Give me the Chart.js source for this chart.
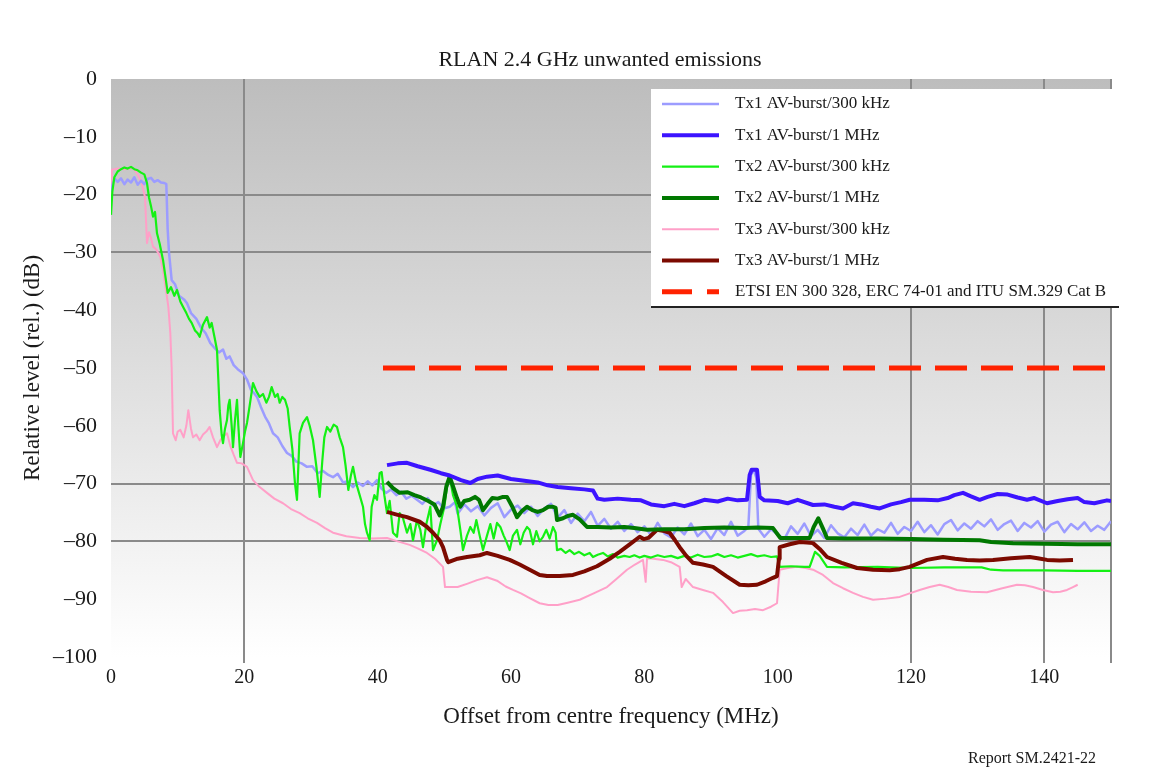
<!DOCTYPE html>
<html><head><meta charset="utf-8">
<script src="https://cdn.jsdelivr.net/npm/chart.js@4.4.1/dist/chart.umd.min.js"></script>
<style>html,body{margin:0;padding:0;background:#fff}#wrap{width:1165px;height:769px;position:relative}</style>
</head><body><div id="wrap"><canvas id="c" width="1165" height="769"></canvas></div>
<script>
const chartTitle = 'RLAN 2.4 GHz unwanted emissions';
const xTitle = 'Offset from centre frequency (MHz)';
const yTitle = 'Relative level (rel.) (dB)';
const footnote = 'Report SM.2421-22';
const xTickValues = [0, 20, 40, 60, 80, 100, 120, 140, 150];
const yTickValues = [-100, -90, -80, -70, -60, -50, -40, -30, -20, -10, 0];
const xGridShown = [20, 120, 140, 150];
const yGridShown = [-20, -30, -70, -80];
const seriesNames = ['Tx1 AV-burst/300 kHz','Tx1 AV-burst/1 MHz','Tx2 AV-burst/300 kHz','Tx2 AV-burst/1 MHz','Tx3 AV-burst/300 kHz','Tx3 AV-burst/1 MHz','ETSI EN 300 328, ERC 74-01 and ITU SM.329 Cat B'];

// Tx1 AV-burst/300 kHz
const tx1k300_f = [0,0.3,0.6,1.0,1.5,2.0,2.5,3.0,3.5,4.0,4.5,5.0,5.5,6.0,6.5,7.0,7.5,8.0,8.3,8.5,8.7,9.1,9.6,10.2,11.0,11.4,12.0,12.8,13.5,14.2,14.9,15.5,16.2,16.8,17.3,17.8,18.4,19.0,19.8,20.4,21.0,21.5,21.9,22.5,23.1,23.7,24.3,25.0,25.7,26.4,27.1,27.8,28.6,29.4,30.2,31.0,31.8,32.6,33.3,34.0,34.8,35.5,36.3,37.0,37.8,38.5,39.2,39.9,40.6,41.3,42.0,42.8,43.5,44.3,45.1,45.9,46.7,47.5,48.3,49.1,49.9,50.8,51.6,52,53,54,55,56,57,58,59,60,61,62,63,64,65,66,67,68,69,70,71,72,73,74,75,76,77,78,79,80,81,82,83,84,85,86,87,88,89,90,91,92,93,94,95,95.6,96.0,96.4,96.8,97.1,98,99,100,101,102,103,104,105,106,107,108,109,110,111,112,113,114,115,116,117,118,119,120,121,122,123,124,125,126,127,128,129,130,131,132,133,134,135,136,137,138,139,140,141,142,143,144,145,146,147,148,149,150];
const tx1k300_db = [-19.5,-18.0,-17.3,-17.8,-17.2,-18.2,-17.4,-17.9,-17.0,-18.3,-17.6,-18.2,-17.3,-17.1,-17.8,-17.5,-17.9,-18.0,-18.2,-26,-30,-34.8,-35.5,-37.5,-38.2,-38.8,-40.5,-41.5,-43.0,-44.0,-45.7,-46.5,-47.3,-46.8,-48.4,-48.0,-49.5,-50.2,-50.9,-52.0,-53.8,-54.4,-55.0,-56.8,-58.4,-59.6,-61.3,-62.0,-63.5,-64.7,-65.2,-66.2,-66.5,-67.1,-67.0,-68.2,-67.8,-68.5,-68.9,-68.3,-69.8,-69.6,-70.6,-69.8,-70.4,-69.6,-70.3,-69.4,-70.9,-71.6,-71.0,-72.0,-71.4,-72.6,-72.1,-72.8,-73.5,-72.5,-73.8,-73.2,-74.3,-74.0,-73.2,-75.2,-73.6,-74.8,-73.9,-75.5,-74.2,-73.4,-75.8,-74.5,-73.8,-75.1,-74.0,-75.6,-74.3,-73.5,-75.9,-74.6,-76.8,-75.2,-76.5,-74.9,-77.3,-76.1,-77.8,-76.6,-78.2,-77.0,-78.4,-77.4,-78.9,-76.8,-78.6,-79.3,-77.6,-78.8,-76.9,-79.1,-78.0,-79.6,-77.7,-78.9,-76.6,-79.0,-78.2,-77.5,-68.5,-67.6,-69,-77.8,-79.2,-77.9,-78.8,-79.6,-77.4,-78.7,-76.9,-79.1,-78.0,-79.4,-77.2,-78.6,-79.3,-77.8,-78.9,-77.1,-79.0,-77.9,-78.5,-76.8,-78.7,-77.5,-78.2,-76.6,-78.4,-77.2,-78.8,-77.0,-76.3,-78.1,-76.9,-77.8,-76.5,-77.4,-76.2,-78.0,-77.0,-76.4,-78.2,-76.8,-77.6,-76.5,-78.3,-77.1,-76.6,-78.4,-77.0,-77.9,-76.7,-78.2,-77.3,-78.0,-76.5];

// Tx1 AV-burst/1 MHz
const tx1m1_f = [41.4,43,44.4,46,47.9,49.5,50.8,52.5,53.9,55,56.4,58,60,62,64,65.5,67,69,71,72.3,73,74,76,78,79.5,81,83,84.5,86,87.5,89,91,92.5,94,95.4,95.8,96.1,96.9,97.3,98,100,101.5,103,105.3,107,108.5,109.8,111.3,112.5,114,115.3,117,118.5,119.8,122,124,125.5,126.5,127.8,129,130.3,131.5,133,134.5,136,137.4,138.5,140.4,142,143.5,145,146,147.5,149.4,150];
const tx1m1_db = [-66.8,-66.5,-66.4,-67.0,-67.6,-68.2,-68.6,-69.4,-69.9,-69.2,-68.8,-68.6,-69.2,-69.5,-69.8,-70.3,-70.6,-70.8,-71.0,-71.2,-72.6,-72.8,-72.6,-72.8,-72.9,-73.6,-73.9,-73.5,-73.9,-73.4,-72.8,-73.1,-72.6,-72.9,-72.8,-68.5,-67.6,-67.6,-72.3,-72.9,-73.0,-73.4,-72.8,-73.7,-73.6,-74.0,-74.3,-73.4,-73.6,-74.0,-74.3,-73.6,-73.2,-72.8,-72.8,-72.9,-72.5,-72.0,-71.6,-72.2,-72.8,-72.3,-71.8,-71.9,-72.4,-72.8,-72.5,-73.4,-73.0,-72.7,-72.5,-73.2,-73.4,-72.9,-73.0];

// Tx2 AV-burst/300 kHz
const tx2k300_f = [0,0.2,0.5,1.0,1.5,2.0,2.5,3.0,3.5,4.0,4.5,5.0,5.4,5.7,6.0,6.3,6.6,6.9,7.3,7.8,8.2,8.5,9.0,9.5,9.9,10.4,10.8,11.3,11.7,12.1,12.6,13.0,13.3,13.8,14.4,14.8,15.1,15.5,15.9,16.1,16.3,16.6,16.8,17.1,17.4,17.6,17.8,18.1,18.3,18.6,18.9,19.1,19.4,19.8,20.1,20.4,20.8,21.3,21.8,22.3,22.8,23.3,23.7,24.1,24.6,25.0,25.3,25.7,26.1,26.5,26.8,27.2,27.6,27.9,28.1,28.3,28.8,29.4,29.8,30.3,30.8,31.3,31.7,32.0,32.4,32.9,33.4,33.9,34.3,34.8,35.2,35.6,36.0,36.3,36.8,37.3,37.8,38.1,38.4,38.8,39.1,39.5,39.9,40.3,40.6,41.0,41.4,41.8,42.3,42.9,43.3,43.8,44.4,44.9,45.3,45.9,46.4,46.8,47.3,47.9,48.3,48.9,49.4,50.0,50.4,50.8,51.3,51.9,52.4,52.8,53.4,53.9,54.4,54.8,55.3,55.8,56.4,56.9,57.4,57.9,58.4,58.9,59.3,59.8,60.3,60.9,61.4,61.9,62.4,62.8,63.3,63.8,64.3,64.8,65.3,65.8,66.3,66.7,66.9,67.5,68.2,68.8,69.5,70.2,71.0,71.8,72.3,73.0,73.8,74.5,75.3,76.0,77.0,77.8,78.5,79.3,80,81,82,83,84,85,86,87,88,89,90,91,92,93,94,95,96,97,98,99,99.9,100.3,102,104,104.8,105.6,106.3,107.4,110,115,120,125,130.6,132,133.8,140,145,150];
const tx2k300_db = [-23.5,-19.5,-17.0,-16.0,-15.6,-15.3,-15.5,-15.2,-15.6,-15.8,-16.2,-16.5,-18.0,-20.5,-22.0,-23.8,-23.0,-26.7,-28.5,-31.3,-34.5,-37.0,-36.0,-37.5,-36.5,-38.5,-39.4,-40.5,-41.5,-42.2,-43.5,-44.0,-44.6,-42.5,-41.2,-43.0,-42.2,-44.5,-46.9,-52,-57.3,-61.5,-63.0,-60.5,-59.0,-56.5,-55.5,-60.0,-63.7,-59.0,-55.5,-60.0,-65.4,-63.0,-61.0,-59.5,-56.5,-52.6,-54.0,-55.0,-54.5,-56.0,-55.0,-53.3,-55.0,-54.5,-56.0,-55.0,-55.5,-57.0,-60.2,-64.0,-70.0,-72.8,-67.0,-61.3,-59.5,-58.5,-60.0,-62.5,-67.0,-72.3,-66.0,-62.0,-60.2,-61.0,-59.8,-60.2,-62.0,-63.7,-67.0,-71.1,-68.5,-67.1,-70.0,-72.0,-74.0,-77.0,-78.5,-79.8,-74.0,-72.0,-72.8,-68.2,-68.0,-72.0,-75.1,-73.0,-78.5,-79.2,-75.1,-76.0,-78.5,-77.0,-79.8,-76.3,-78.0,-81.0,-77.0,-74.0,-81.5,-79.8,-77.0,-74.0,-70.6,-68.8,-72.0,-74.0,-78.0,-81.5,-79.0,-77.5,-78.5,-76.3,-79.0,-81.5,-79.0,-77.0,-79.5,-76.8,-77.5,-79.0,-80.0,-81.5,-79.0,-78.0,-80.5,-78.5,-77.5,-78.0,-80.5,-78.2,-80.0,-79.2,-78.0,-79.5,-77.5,-78.5,-81.5,-81.3,-82.0,-81.5,-82.2,-81.8,-82.4,-82.0,-82.7,-82.3,-82.0,-82.6,-82.2,-82.8,-82.5,-82.7,-82.4,-82.8,-82.5,-82.8,-82.4,-82.7,-82.5,-82.9,-82.5,-82.8,-82.3,-82.7,-82.6,-82.2,-82.7,-82.4,-82.8,-82.5,-82.2,-82.6,-82.4,-82.7,-82.6,-84.4,-84.3,-84.4,-84.4,-81.8,-82.5,-84.4,-84.5,-84.4,-84.6,-84.5,-84.5,-84.9,-85.0,-85.0,-85.1,-85.1];

// Tx2 AV-burst/1 MHz
const tx2m1_f = [41.4,42.3,43.3,44.5,45.5,46.5,47.6,48.5,49.3,49.8,50.3,50.8,51.4,51.9,52.4,53.0,53.8,54.6,55.2,55.8,56.5,57.2,58.0,58.8,59.4,60.2,60.9,61.6,62.4,63.2,64.0,64.8,65.6,66.3,66.7,66.9,67.8,68.5,69.3,70.3,71.4,73,75,77,78.5,80.4,83,86,89,92,95,97,99.3,100.4,102,104.8,105.4,106.1,106.8,107.4,110,115,120,125,130.3,132,135.3,140,145,150];
const tx2m1_db = [-69.7,-70.8,-71.6,-71.5,-72.0,-72.4,-73.0,-73.6,-75.5,-74.0,-70.5,-68.8,-70.8,-72.5,-74.0,-73.0,-72.8,-72.3,-72.8,-74.6,-73.5,-72.5,-72.6,-72.3,-72.3,-74.0,-75.8,-74.8,-74.0,-74.6,-74.9,-74.6,-74.0,-74.0,-74.2,-76.3,-76.0,-75.6,-75.4,-76.2,-77.5,-77.5,-77.6,-77.5,-77.7,-78.0,-77.9,-77.9,-77.7,-77.6,-77.7,-77.6,-77.7,-79.4,-79.4,-79.4,-77.5,-76.0,-77.8,-79.4,-79.5,-79.5,-79.6,-79.7,-79.8,-80.1,-80.3,-80.4,-80.5,-80.5];

// Tx3 AV-burst/300 kHz
const tx3k300_f = [0,0.15,1,2,3.3,4.0,4.6,5.1,5.4,5.7,6.0,6.3,6.8,7.4,7.8,8.1,8.6,8.9,9.1,9.3,9.7,10.0,10.4,10.9,11.3,11.6,12.0,12.3,12.8,13.3,13.8,14.3,14.8,15.3,15.9,16.4,16.9,17.4,17.9,18.4,18.9,19.6,20.4,21.3,22.3,23.4,24.5,25.8,27.0,28.3,29.5,30.9,32.1,33.3,35.3,37.3,39.3,41.4,43.0,44.8,46.0,47.4,48.6,49.8,50.1,52,53.5,54.9,56.4,57.9,59.2,60.3,61.5,62.8,64.3,65.6,67.0,68.5,70.3,72.4,74.4,75.9,77.4,78.6,79.8,80.2,80.4,80.8,82.8,84.0,85.3,85.6,86.2,87.3,88.8,90.3,91.8,93.3,94.3,95.4,96.6,97.8,99.0,99.9,100.3,101.5,102.9,104.2,105.3,106.8,108.3,109.8,111.3,112.8,114.3,116.3,118.3,119.8,121.3,122.8,124.3,125.6,126.9,129,131.4,133.7,135.9,137.1,138.3,139.8,141.3,142.4,143.4,144.3,145];
const tx3k300_db = [-20,-15.7,-15.5,-15.6,-15.4,-16.5,-18.0,-20.4,-28.4,-26.5,-27.5,-29.0,-29.5,-30.8,-33.0,-35.3,-39.4,-44.0,-50.0,-61.3,-62.5,-61.0,-60.7,-62.0,-60.0,-57.3,-60.5,-62.0,-61.5,-62.5,-61.5,-61.0,-60.2,-62.0,-63.7,-62.5,-61.8,-61.3,-63.5,-65.0,-66.4,-66.5,-67.1,-69.4,-70.6,-71.6,-72.6,-73.4,-74.4,-75.1,-76.0,-76.8,-77.7,-78.5,-79.1,-79.4,-79.5,-79.4,-80.0,-80.6,-81.2,-82.0,-83.0,-84.4,-87.9,-87.9,-87.3,-86.7,-86.2,-86.8,-87.8,-88.4,-89.0,-89.8,-90.7,-91.0,-91.0,-90.6,-90.1,-89.0,-87.9,-86.4,-84.9,-84.0,-83.2,-87.0,-83.0,-82.9,-83.2,-83.6,-84.4,-87.9,-86.5,-87.9,-88.4,-88.9,-90.5,-92.4,-92.0,-91.9,-91.7,-91.9,-91.3,-90.7,-84.9,-84.6,-84.4,-84.6,-84.9,-85.8,-87.2,-88.1,-88.9,-89.6,-90.1,-89.9,-89.6,-89.0,-88.4,-87.9,-87.5,-87.9,-88.4,-88.7,-88.8,-88.1,-87.5,-87.6,-87.9,-88.4,-88.8,-88.7,-88.4,-87.9,-87.5];

// Tx3 AV-burst/1 MHz
const tx3m1_f = [41.4,43,44.4,46.3,47.4,48.3,49.3,49.8,50.4,50.6,52,53.4,55.3,56.4,58,59.8,61.3,62.8,64.3,65.4,67.3,69.3,71.0,72.9,74.8,76.3,77.8,79.3,79.9,80.6,81.9,83.0,83.8,84.6,85.3,86.3,87.3,88.8,90.3,92.3,94.3,95.6,96.9,98.2,99.3,99.9,100.2,100.3,101.8,103.3,104.4,105.3,106.3,107.4,109.6,111.9,114.3,116.8,118.3,119.8,121.1,122.4,124.8,126.6,128.4,130.3,132.3,135,137.8,139,140.4,142.3,144.3];
const tx3m1_db = [-74.9,-75.4,-75.8,-76.6,-77.5,-78.5,-79.8,-81.0,-83.2,-83.6,-83.0,-82.7,-82.4,-82.0,-82.5,-83.2,-84.0,-84.9,-85.8,-86.0,-86.0,-85.8,-85.2,-84.3,-83.0,-81.8,-80.5,-79.2,-79.6,-79.4,-78.0,-78.2,-78.5,-79.8,-81.0,-82.5,-83.7,-84.0,-84.4,-86.0,-87.5,-87.6,-87.5,-86.9,-86.3,-86.0,-83.0,-81.0,-80.5,-80.1,-80.2,-80.3,-81.3,-82.7,-83.7,-84.6,-84.9,-85.0,-84.8,-84.4,-83.8,-83.2,-82.7,-83.0,-83.2,-83.3,-83.2,-82.9,-82.7,-82.9,-83.2,-83.3,-83.2];

// Limit line
const limit_f = [40.8, 150];
const limit_db = [-50, -50];

const FONT = "'Liberation Serif', 'Times New Roman', serif";
const TXT = '#1a1a1a';
const pts = (f, d) => f.map((x, i) => ({x: x, y: d[i]}));
const mk = (label, f, d, color, w, order, dash) => ({
  label: label, data: pts(f, d), borderColor: color, backgroundColor: color,
  borderWidth: w, pointRadius: 0, tension: 0, fill: false, order: order,
  borderDash: dash || [], borderJoinStyle: 'round', borderCapStyle: 'butt'
});

const datasets = [
  mk(seriesNames[0], tx1k300_f, tx1k300_db, '#9c9cff', 2.5, 5),
  mk(seriesNames[1], tx1m1_f, tx1m1_db, '#3c14ff', 4, 1),
  mk(seriesNames[2], tx2k300_f, tx2k300_db, '#14f014', 2.2, 4),
  mk(seriesNames[3], tx2m1_f, tx2m1_db, '#007800', 4, 2),
  mk(seriesNames[4], tx3k300_f, tx3k300_db, '#ffa0c8', 2, 6),
  mk(seriesNames[5], tx3m1_f, tx3m1_db, '#7c0a00', 4, 3),
  mk(seriesNames[6], limit_f, limit_db, '#ff2200', 5, 0, [32, 14])
];

const decor = {
  id: 'decor',
  beforeDraw(chart) {
    const {ctx, chartArea: a} = chart;
    const g = ctx.createLinearGradient(0, a.top, 0, a.bottom);
    g.addColorStop(0, '#bdbdbd');
    g.addColorStop(1, '#ffffff');
    ctx.save();
    ctx.fillStyle = '#ffffff';
    ctx.fillRect(0, 0, chart.width, chart.height);
    ctx.fillStyle = g;
    ctx.fillRect(a.left, a.top, a.right - a.left, a.bottom - a.top);
    ctx.restore();
  },
  afterDatasetsDraw(chart) {
    const ctx = chart.ctx;
    ctx.save();
    const bx = 651, by = 89, bw = 468, bh = 217;
    ctx.fillStyle = '#ffffff';
    ctx.fillRect(bx, by, bw, bh);
    ctx.fillStyle = '#222222';
    ctx.fillRect(bx, by + bh, bw, 2);
    ctx.textBaseline = 'middle';
    ctx.textAlign = 'left';
    ctx.font = '17px ' + FONT;
    chart.data.datasets.forEach((ds, i) => {
      const y = 104 + i * 31.3;
      ctx.strokeStyle = ds.borderColor;
      ctx.lineWidth = ds.borderWidth;
      ctx.setLineDash(ds.borderDash && ds.borderDash.length ? [30, 15] : []);
      ctx.beginPath();
      ctx.moveTo(662, y);
      ctx.lineTo(719, y);
      ctx.stroke();
      ctx.setLineDash([]);
      ctx.fillStyle = TXT;
      ctx.fillText(ds.label, 735, y);
    });
    ctx.restore();
  },
  afterDraw(chart) {
    const ctx = chart.ctx;
    ctx.save();
    ctx.fillStyle = TXT;
    ctx.textBaseline = 'middle';
    ctx.textAlign = 'center';
    ctx.font = '22px ' + FONT;
    ctx.fillText(chartTitle, 600, 60);
    ctx.textAlign = 'left';
    ctx.font = '16px ' + FONT;
    ctx.fillText(footnote, 968, 759);
    ctx.restore();
  }
};

new Chart(document.getElementById('c'), {
  type: 'line',
  data: { datasets: datasets },
  options: {
    responsive: false,
    animation: false,
    layout: { padding: { top: 79, right: 54, left: 0, bottom: 0 } },
    plugins: { legend: { display: false }, tooltip: { enabled: false }, title: { display: false } },
    scales: {
      x: {
        type: 'linear', min: 0, max: 150,
        afterBuildTicks: s => { s.ticks = xTickValues.map(v => ({value: v})); },
        afterFit: s => { s.height = 112; },
        ticks: { autoSkip: false, maxRotation: 0, padding: 3, color: TXT, font: { family: FONT, size: 20 },
                 callback: v => (v === 150 ? '' : String(v)) },
        grid: { color: c => (c.tick && xGridShown.includes(c.tick.value) ? '#8a8a8a' : 'rgba(0,0,0,0)'), lineWidth: 2, tickLength: 6, drawTicks: true },
        border: { display: false },
        title: { display: true, text: xTitle, color: TXT, font: { family: FONT, size: 23 }, padding: { top: 0, bottom: 38.2 } }
      },
      y: {
        type: 'linear', min: -100, max: 0,
        afterBuildTicks: s => { s.ticks = yTickValues.map(v => ({value: v})); },
        afterFit: s => { s.width = 111; },
        ticks: { padding: 14, color: TXT, font: { family: FONT, size: 22 },
                 callback: v => (v < 0 ? '\u2013' + Math.abs(v) : String(v)) },
        grid: { color: c => (c.tick && yGridShown.includes(c.tick.value) ? '#8a8a8a' : 'rgba(0,0,0,0)'), lineWidth: 2, drawTicks: false },
        border: { display: false },
        title: { display: true, text: yTitle, color: TXT, font: { family: FONT, size: 23 }, padding: { top: 19, bottom: 0 } }
      }
    }
  },
  plugins: [decor]
});
</script></body></html>
